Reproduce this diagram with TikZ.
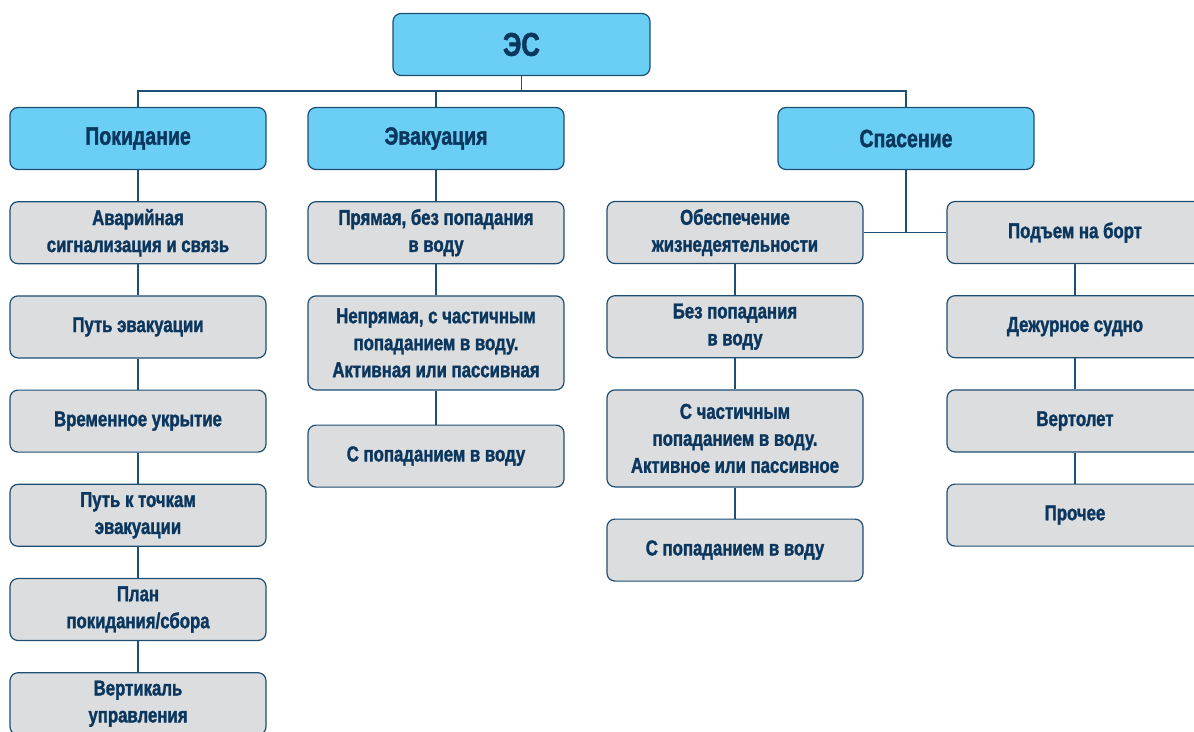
\documentclass[tikz,border=0pt]{standalone}
\usepackage{fontspec}
\setmainfont{Liberation Sans}[FakeStretch=0.78, BoldFeatures={FakeBold=1.5}]
\usetikzlibrary{positioning}
\definecolor{navy}{HTML}{0B375E}
\definecolor{boxline}{HTML}{1F4E73}
\definecolor{headfill}{HTML}{6BCFF5}
\definecolor{itemfill}{HTML}{DCDDDF}
\definecolor{linecol}{HTML}{1D4F78}

\begin{document}
\begin{tikzpicture}[
    x=1pt, y=-1pt,
    head/.style={draw=boxline, fill=headfill, rounded corners=8pt, line width=1.2pt, minimum width=256pt, minimum height=62pt, text=navy, font=\fontsize{25}{30}\selectfont\bfseries},
    item/.style={draw=boxline, fill=itemfill, rounded corners=8pt, line width=1.2pt, minimum width=256pt, minimum height=62pt, text=navy, align=center, font=\fontsize{21.5}{27}\selectfont\bfseries},
    link/.style={draw=linecol, line width=1.5pt},
    node distance=31pt
]
    \useasboundingbox (0,0) rectangle (1194,731);

    \node [head, minimum width=257pt, font=\fontsize{33}{38}\selectfont\bfseries] (es) at (521.5,44.5) {ЭС};
    \node [head] (pok) at (138,138.5) {Покидание};
    \node [head] (evak) at (436,138.5) {Эвакуация};
    \node [head] (spas) at (906,138.5) {Спасение};

    \node [item, below=of pok] (avar) {Аварийная\\сигнализация и связь};
    \node [item, below=of avar] (put) {Путь эвакуации};
    \node [item, below=of put] (ukr) {Временное укрытие};
    \node [item, below=of ukr] (tochki) {Путь к точкам\\эвакуации};
    \node [item, below=of tochki] (plan) {План\\покидания/сбора};
    \node [item, below=of plan] (vert) {Вертикаль\\управления};

    \node [item, below=of evak] (pryam) {Прямая, без попадания\\в воду};
    \node [item, below=of pryam, minimum height=94pt] (nepr) {Непрямая, с частичным\\попаданием в воду.\\Активная или пассивная};
    \node [item, below=34pt of nepr] (svodu) {С попаданием в воду};

    \node [item] (obes) at (735,232.5) {Обеспечение\\жизнедеятельности};
    \node [item, below=of obes] (bez) {Без попадания\\в воду};
    \node [item, below=of bez, minimum height=97pt] (chast) {С частичным\\попаданием в воду.\\Активное или пассивное};
    \node [item, below=of chast] (spvodu) {С попаданием в воду};

    \node [item] (podem) at (1075,232.5) {Подъем на борт};
    \node [item, below=of podem] (dezh) {Дежурное судно};
    \node [item, below=of dezh] (vertol) {Вертолет};
    \node [item, below=of vertol] (proch) {Прочее};

    \coordinate (bus) at (es.south |- 0,91);
    \coordinate (junc) at (spas.south |- obes.east);

    \draw [link] (es) -- (bus);
    \draw [link] (pok.north) |- (bus) -| (spas.north);
    \draw [link] (evak.north) -- (evak.north |- bus);

    \draw [link] (pok) -- (avar);
    \draw [link] (avar) -- (put);
    \draw [link] (put) -- (ukr);
    \draw [link] (ukr) -- (tochki);
    \draw [link] (tochki) -- (plan);
    \draw [link] (plan) -- (vert);

    \draw [link] (evak) -- (pryam);
    \draw [link] (pryam) -- (nepr);
    \draw [link] (nepr) -- (svodu);

    \draw [link] (spas) -- (junc);
    \draw [link] (obes) -- (podem);
    \draw [link] (obes) -- (bez);
    \draw [link] (bez) -- (chast);
    \draw [link] (chast) -- (spvodu);

    \draw [link] (podem) -- (dezh);
    \draw [link] (dezh) -- (vertol);
    \draw [link] (vertol) -- (proch);

\end{tikzpicture}
\end{document}
